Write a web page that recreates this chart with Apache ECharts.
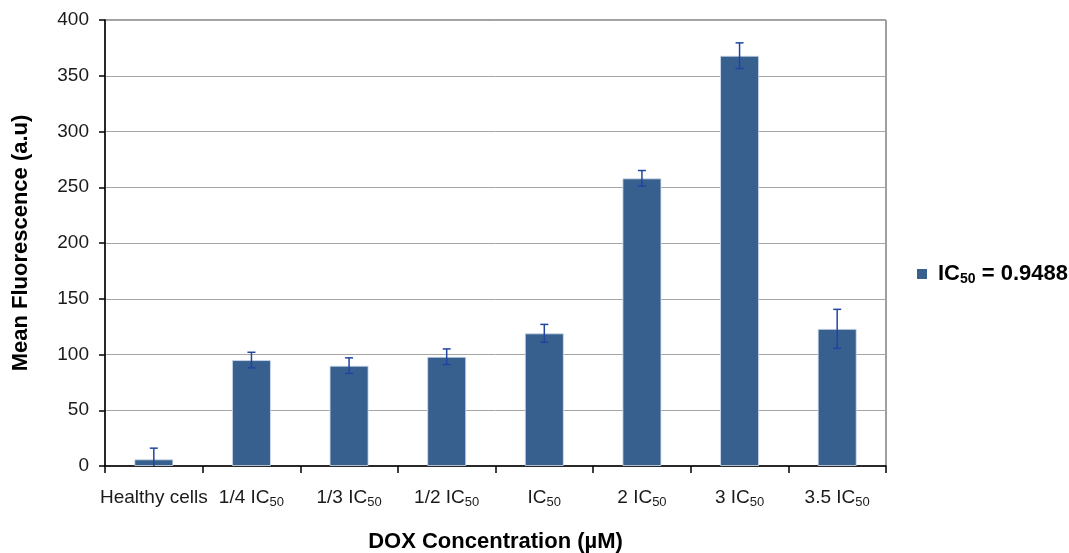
<!DOCTYPE html>
<html><head><meta charset="utf-8">
<script src="https://cdn.jsdelivr.net/npm/echarts@6/dist/echarts.min.js"></script>
<style>html,body{margin:0;padding:0;background:#fff}#c{width:1069px;height:553px}</style>
</head><body><div id="c"></div>
<script>
const categories = ['Healthy cells', '1/4 IC50', '1/3 IC50', '1/2 IC50', 'IC50', '2 IC50', '3 IC50', '3.5 IC50'];
const meanValues = [6, 95, 90, 98, 119, 258, 368, 123];
const errorValues = [10, 7, 7, 7, 8, 7, 11.5, 17.5];
const yTicks = { min: 0, max: 400, interval: 50 };
const seriesName = 'IC50 = 0.9488';

function subFmt(s, base, sub) {
  const m = s.match(/^(.*?)IC50(.*)$/);
  if (!m) return '{' + base + '|' + s + '}{' + sub + '|\u200b}';
  let out = '{' + base + '|' + m[1] + 'IC}';
  out += '{' + sub + '|50}';
  if (m[2]) out += '{' + base + '|' + m[2] + '}';
  return out;
}

const chart = echarts.init(document.getElementById('c'));
const FONT = 'Liberation Sans, Arial, sans-serif';
chart.setOption({
  animation: false,
  textStyle: { fontFamily: FONT },
  grid: { left: 105, right: 183, top: 20, bottom: 87, show: true, borderColor: '#404040', borderWidth: 1, backgroundColor: 'transparent', outerBoundsMode: 'none', containLabel: false },
  legend: {
    data: [seriesName],
    left: 912, top: 258,
    itemWidth: 10, itemHeight: 10, itemGap: 10,
    icon: 'rect',
    itemStyle: { borderWidth: 0 },
    formatter: function (n) { return subFmt(n, 'lb', 'ls'); },
    textStyle: {
      padding: [0, 0, 0, 6],
      rich: {
        lb: { fontSize: 22, fontWeight: 'bold', color: '#000', fontFamily: FONT },
        ls: { fontSize: 14, fontWeight: 'bold', color: '#000', fontFamily: FONT, padding: [11, 0, 0, 0] }
      }
    }
  },
  xAxis: {
    type: 'category',
    data: categories,
    name: 'DOX Concentration (µM)',
    nameLocation: 'middle',
    nameGap: 65,
    nameTextStyle: { fontSize: 22, fontWeight: 'bold', color: '#000', fontFamily: FONT },
    axisLine: { lineStyle: { color: '#000', width: 1.5 } },
    axisTick: { show: true, length: 7, lineStyle: { color: '#000', width: 1.5 } },
    axisLabel: {
      margin: 20, interval: 0,
      formatter: function (v) { return subFmt(v, 'b', 's'); },
      rich: {
        b: { fontSize: 19, color: '#1a1a1a', fontFamily: FONT },
        s: { fontSize: 13, color: '#1a1a1a', fontFamily: FONT, padding: [10, 0, 0, 0] }
      }
    }
  },
  yAxis: {
    type: 'value',
    min: yTicks.min, max: yTicks.max, interval: yTicks.interval,
    name: 'Mean Fluorescence (a.u)',
    nameLocation: 'middle',
    nameGap: 73,
    nameTextStyle: { fontSize: 22, fontWeight: 'bold', color: '#000', fontFamily: FONT },
    axisLine: { show: true, lineStyle: { color: '#000', width: 1.5 } },
    axisTick: { show: true, length: 6, lineStyle: { color: '#000', width: 1.5 } },
    axisLabel: { fontSize: 19, color: '#1a1a1a', margin: 16, fontFamily: FONT },
    splitLine: { show: true, lineStyle: { color: '#A6A6A6', width: 1 } }
  },
  series: [
    {
      name: seriesName,
      type: 'bar',
      data: meanValues,
      barWidth: '40%',
      itemStyle: { color: '#37608F', borderColor: 'rgba(210,222,238,0.8)', borderWidth: 1 },
      z: 2
    },
    {
      type: 'custom',
      name: 'err',
      data: meanValues.map((v, i) => [i, v - errorValues[i], v + errorValues[i]]),
      z: 5,
      renderItem: function (params, api) {
        const x = api.value(0);
        const lo = api.coord([x, api.value(1)]);
        const hi = api.coord([x, api.value(2)]);
        const w = 4;
        const st = { stroke: '#2045A0', lineWidth: 1.5 };
        return {
          type: 'group',
          children: [
            { type: 'line', shape: { x1: lo[0], y1: lo[1], x2: hi[0], y2: hi[1] }, style: st },
            { type: 'line', shape: { x1: hi[0] - w, y1: hi[1], x2: hi[0] + w, y2: hi[1] }, style: st },
            { type: 'line', shape: { x1: lo[0] - w, y1: lo[1], x2: lo[0] + w, y2: lo[1] }, style: st }
          ]
        };
      },
      clip: true
    }
  ]
});
</script></body></html>
